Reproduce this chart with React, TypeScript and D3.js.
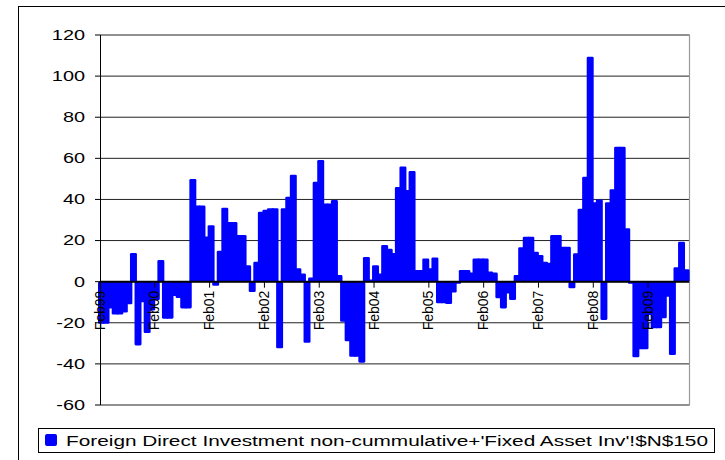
import React from "react";
import * as d3 from "d3";

// Monthly values, Feb 1999 .. Oct 2009
const values: number[] = [
  -20.5, -20.5, -13, -16, -16, -15, -11, 14, -31, -10, -25, -14,
  -9, 10.5, -18, -18, -7, -8, -13, -13, 50, 37, 37, 22,
  27.5, -2, 15, 36, 29, 29, 22.7, 22.7, 8, -5, 9.7, 34,
  35, 35.7, 35.7, -32.4, 35.7, 41.3, 52, 6.5, 4, -29.7, 2, 48.6,
  59.2, 38, 38, 39.7, 3.2, -19.5, -29, -36.5, -36.5, -39.4, 12, 1,
  8, 4, 17.8, 16, 14, 46, 56, 44.6, 53.8, 5.7, 5.7, 11.3,
  6.5, 11.8, -10.5, -10.5, -10.9, -5.3, -1, 5.7, 5.7, 4.4, 11.3, 11.3,
  11.3, 4.9, 4.4, -8.1, -13, -5.7, -8.9, 3.2, 16.7, 21.9, 21.9, 14.6,
  13, 9.7, 9.2, 22.7, 22.7, 17, 17, -3.2, 13.8, 35.5, 51, 109.4,
  38.6, 40, -18.6, 38.6, 45, 65.6, 65.6, 26, -1, -36.8, -32.9, -32.9,
  -16.2, -22.7, -22.7, -17.8, -7.3, -35.7, 7, 19.4, 6,
];

const tickLabels: string[] = [
  "Feb99", "Feb00", "Feb01", "Feb02", "Feb03", "Feb04",
  "Feb05", "Feb06", "Feb07", "Feb08", "Feb09",
];

const yTicks: number[] = [-60, -40, -20, 0, 20, 40, 60, 80, 100, 120];

const legendLabel =
  "Foreign Direct Investment non-cummulative+'Fixed Asset Inv'!$N$150";

const W = 725;
const H = 460;
const PLOT_L = 100;
const PLOT_R = 689.2;
const PLOT_T = 35;
const PLOT_B = 405;
const FONT = "Arial, 'Liberation Sans', sans-serif";

export default function App() {
  const x = d3
    .scaleBand<number>()
    .domain(d3.range(values.length))
    .range([PLOT_L, PLOT_R])
    .paddingInner(0)
    .paddingOuter(0);
  const y = d3.scaleLinear().domain([-60, 120]).range([PLOT_B, PLOT_T]);
  const bw = x.bandwidth();
  const y0 = y(0);

  return (
    <svg
      width={W}
      height={H}
      style={{ position: "absolute", left: 0, top: 0, background: "#fff" }}
    >
      <rect x={0} y={0} width={W} height={H} fill="#fff" />
      {/* outer chart border */}
      <rect x={18.5} y={6.5} width={740} height={500} fill="none" stroke="#000" strokeWidth={1} />

      {/* gridlines */}
      {yTicks.map((t) => (
        <line
          key={"g" + t}
          x1={PLOT_L}
          x2={PLOT_R + 0.5}
          y1={y(t)}
          y2={y(t)}
          stroke="#222"
          strokeWidth={1}
        />
      ))}
      {/* plot right border */}
      <line x1={689.5} x2={689.5} y1={PLOT_T} y2={PLOT_B} stroke="#999" strokeWidth={1.2} />

      {/* bars */}
      {values.map((v, i) => {
        const yv = y(v);
        return (
          <rect
            key={"b" + i}
            x={(x(i) as number) - 2}
            width={bw + 2.4}
            y={Math.min(yv, y0)}
            height={Math.max(0.5, Math.abs(yv - y0))}
            rx={1.3}
            fill="#0000FF"
          />
        );
      })}

      {/* zero line */}
      <line x1={PLOT_L} x2={PLOT_R} y1={y0} y2={y0} stroke="#000" strokeWidth={2} />
      {/* y axis */}
      <line x1={PLOT_L + 0.5} x2={PLOT_L + 0.5} y1={PLOT_T} y2={PLOT_B} stroke="#000" strokeWidth={1} />
      {yTicks.map((t) => (
        <g key={"yt" + t}>
          <line x1={95} x2={PLOT_L} y1={y(t)} y2={y(t)} stroke="#000" strokeWidth={1} />
          <text
            transform={`translate(85,${y(t)}) scale(1.42,1)`}
            textAnchor="end"
            dominantBaseline="central"
            fontFamily={FONT}
            fontSize={14}
            fill="#000"
          >
            {t}
          </text>
        </g>
      ))}

      {/* category ticks and labels */}
      {tickLabels.map((lab, k) => {
        const xt = x(k * 12) as number;
        return (
          <g key={"xt" + lab}>
            <line x1={xt} x2={xt} y1={y0} y2={y0 + 6} stroke="#000" strokeWidth={1} />
            <text
              transform={`translate(${xt + 4.5},${y0 + 9}) rotate(-90)`}
              textAnchor="end"
              fontFamily={FONT}
              fontSize={14}
              fill="#000"
            >
              {lab}
            </text>
          </g>
        );
      })}

      {/* legend */}
      <rect x={38.5} y={428.5} width={676} height={24} fill="#fff" stroke="#000" strokeWidth={1} />
      <rect x={45} y={434} width={12} height={12} rx={2} fill="#0000FF" />
      <text
        x={66}
        y={445.5}
        fontFamily={FONT}
        fontSize={14}
        textLength={642}
        lengthAdjust="spacingAndGlyphs"
        fill="#000"
      >
        {legendLabel}
      </text>
    </svg>
  );
}
